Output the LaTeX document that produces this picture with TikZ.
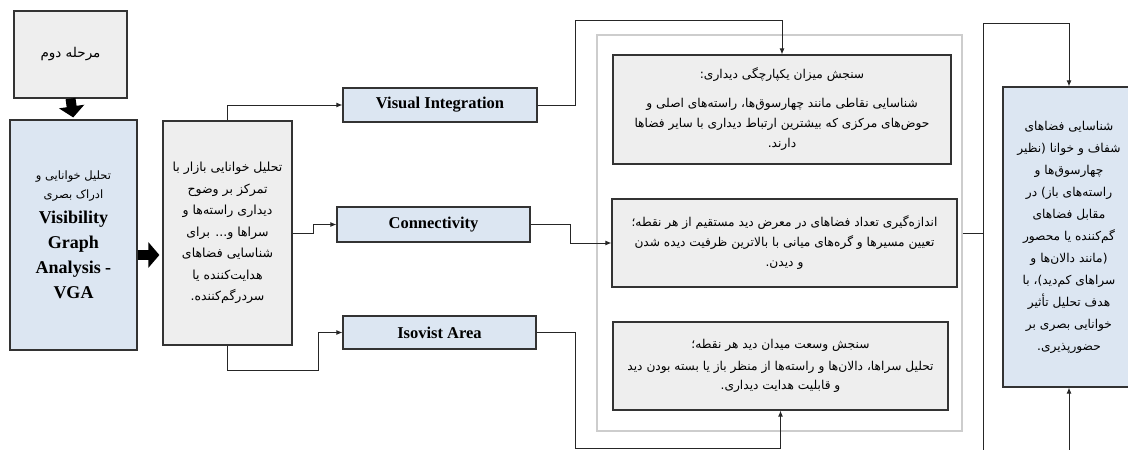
\documentclass[tikz,border=0pt]{standalone}
\usepackage{fontspec}
\setmainfont{Liberation Serif}
\newfontfamily\fa[Script=Arabic]{DejaVu Sans}
\TeXXeTstate=1
\usetikzlibrary{arrows.meta}
\newcommand\R[1]{{\fa\beginR #1\endR}}
\newcommand\E[1]{{\bfseries #1}}
\definecolor{boxgray}{RGB}{238,238,238}
\definecolor{boxblue}{RGB}{220,230,242}
\definecolor{framegray}{RGB}{205,205,205}
\begin{document}
\begin{tikzpicture}[x=1pt,y=-1pt,
 box/.style={draw=black!80, line width=1.2pt, inner sep=0pt, align=center},
 gbox/.style={box, fill=boxgray},
 bbox/.style={box, fill=boxblue},
 lab/.style={bbox, font=\fontsize{16.5}{18}\selectfont\bfseries},
 conn/.style={draw=black!85, line width=0.9pt, -{Latex[length=6pt,width=5pt]}},
 plain/.style={draw=black!85, line width=0.9pt},
 fat/.style={line width=10pt, -{Triangle[length=11pt,width=25pt]}, black}
]
\useasboundingbox (0,0) rectangle (1128,450);

\node[gbox, minimum width=113pt, minimum height=87pt, font=\fontsize{13.5}{16}\selectfont] (stage) at (70.5,54.5) {\R{مرحله دوم}};

\node[bbox, minimum width=127pt, minimum height=230pt, font=\fontsize{18}{25}\selectfont] (vga) at (73.5,235)
 {{\fontsize{11.5}{14}\selectfont\R{تحلیل خوانایی و}}\\[-6pt]
  {\fontsize{11.5}{14}\selectfont\R{ادراک بصری}}\\
  \E{Visibility}\\ \E{Graph}\\ \E{Analysis -}\\ \E{VGA}};

\node[gbox, minimum width=129pt, minimum height=224pt, font=\fontsize{12.5}{21.5}\selectfont] (mid) at (227.5,233)
 {\R{تحلیل خوانایی بازار با}\\
  \R{تمرکز بر وضوح}\\
  \R{دیداری راسته‌ها و}\\
  \R{سراها و... برای}\\
  \R{شناسایی فضاهای}\\
  \R{هدایت‌کننده یا}\\
  \R{سردرگم‌کننده.}};

\node[lab, minimum width=194pt, minimum height=34pt] (vi) at (440,105) {Visual Integration};
\node[lab, minimum width=193pt, minimum height=35pt] (con) at (433.5,224.5) {Connectivity};
\node[lab, minimum width=193pt, minimum height=33pt] (iso) at (439.5,332.5) {Isovist Area};

\node[draw=framegray, line width=1.5pt, minimum width=365pt, minimum height=396pt] (cont) at (779.5,233) {};

\node[gbox, minimum width=338pt, minimum height=109pt, font=\fontsize{12.2}{20}\selectfont] (b1) at (782,109.5)
 {\R{سنجش میزان یکپارچگی دیداری:}\\[9pt]
  \R{شناسایی نقاطی مانند چهارسوق‌ها، راسته‌های اصلی و}\\
  \R{حوض‌های مرکزی که بیشترین ارتباط دیداری با سایر فضاها}\\
  \R{دارند.}};

\node[gbox, minimum width=345pt, minimum height=88pt, font=\fontsize{12.2}{20}\selectfont] (b2) at (784.5,243)
 {\R{اندازه‌گیری تعداد فضاهای در معرض دید مستقیم از هر نقطه؛}\\
  \R{تعیین مسیرها و گره‌های میانی با بالاترین ظرفیت دیده شدن}\\
  \R{و دیدن.}};

\node[gbox, minimum width=335pt, minimum height=88pt, font=\fontsize{12.2}{19}\selectfont] (b3) at (780.5,366)
 {\R{سنجش وسعت میدان دید هر نقطه؛}\\[3pt]
  \R{تحلیل سراها، دالان‌ها و راسته‌ها از منظر باز یا بسته بودن دید}\\
  \R{و قابلیت هدایت دیداری.}};

\node[bbox, minimum width=132pt, minimum height=300pt, font=\fontsize{12.2}{22}\selectfont] (right) at (1069,237)
 {\R{شناسایی فضاهای}\\
  \R{شفاف و خوانا (نظیر}\\
  \R{چهارسوق‌ها و}\\
  \R{راسته‌های باز) در}\\
  \R{مقابل فضاهای}\\
  \R{گم‌کننده یا محصور}\\
  \R{(مانند دالان‌ها و}\\
  \R{سراهای کم‌دید)، با}\\
  \R{هدف تحلیل تأثیر}\\
  \R{خوانایی بصری بر}\\
  \R{حضورپذیری.}};

% thick arrows
\draw[fat, shorten >=2pt] (stage.south) -- (vga.north);
\coordinate (fa1) at ([yshift=-20pt]vga.east);
\draw[fat, shorten >=3pt] (fa1) -- (fa1 -| mid.west);

% connectors
\draw[conn] (mid.north) |- (vi.west);
\draw[conn] (mid.east) -- ++(21,0) |- (con.west);
\draw[conn] (mid.south) -- ++(0,25) -- ++(90.5,0) |- (iso.west);

\coordinate (t1) at (575,20);
\coordinate (t3) at (575,448);
\draw[conn] (vi.east) -| (t1) -| (b1.north);
\draw[conn] (con.east) -- ++(40,0) |- (b2.west);
\draw[conn] (iso.east) -| (t3) -| (b3.south);

\coordinate (jt) at (983,23);
\coordinate (jm) at (983,233);
\coordinate (jb) at (983,456);
\draw[plain] (cont.east) -- (jm);
\draw[plain] (jt) -- (jb);
\draw[conn] (jt) -| (right.north);
\draw[conn] (jb) -| (right.south);
\end{tikzpicture}
\end{document}
